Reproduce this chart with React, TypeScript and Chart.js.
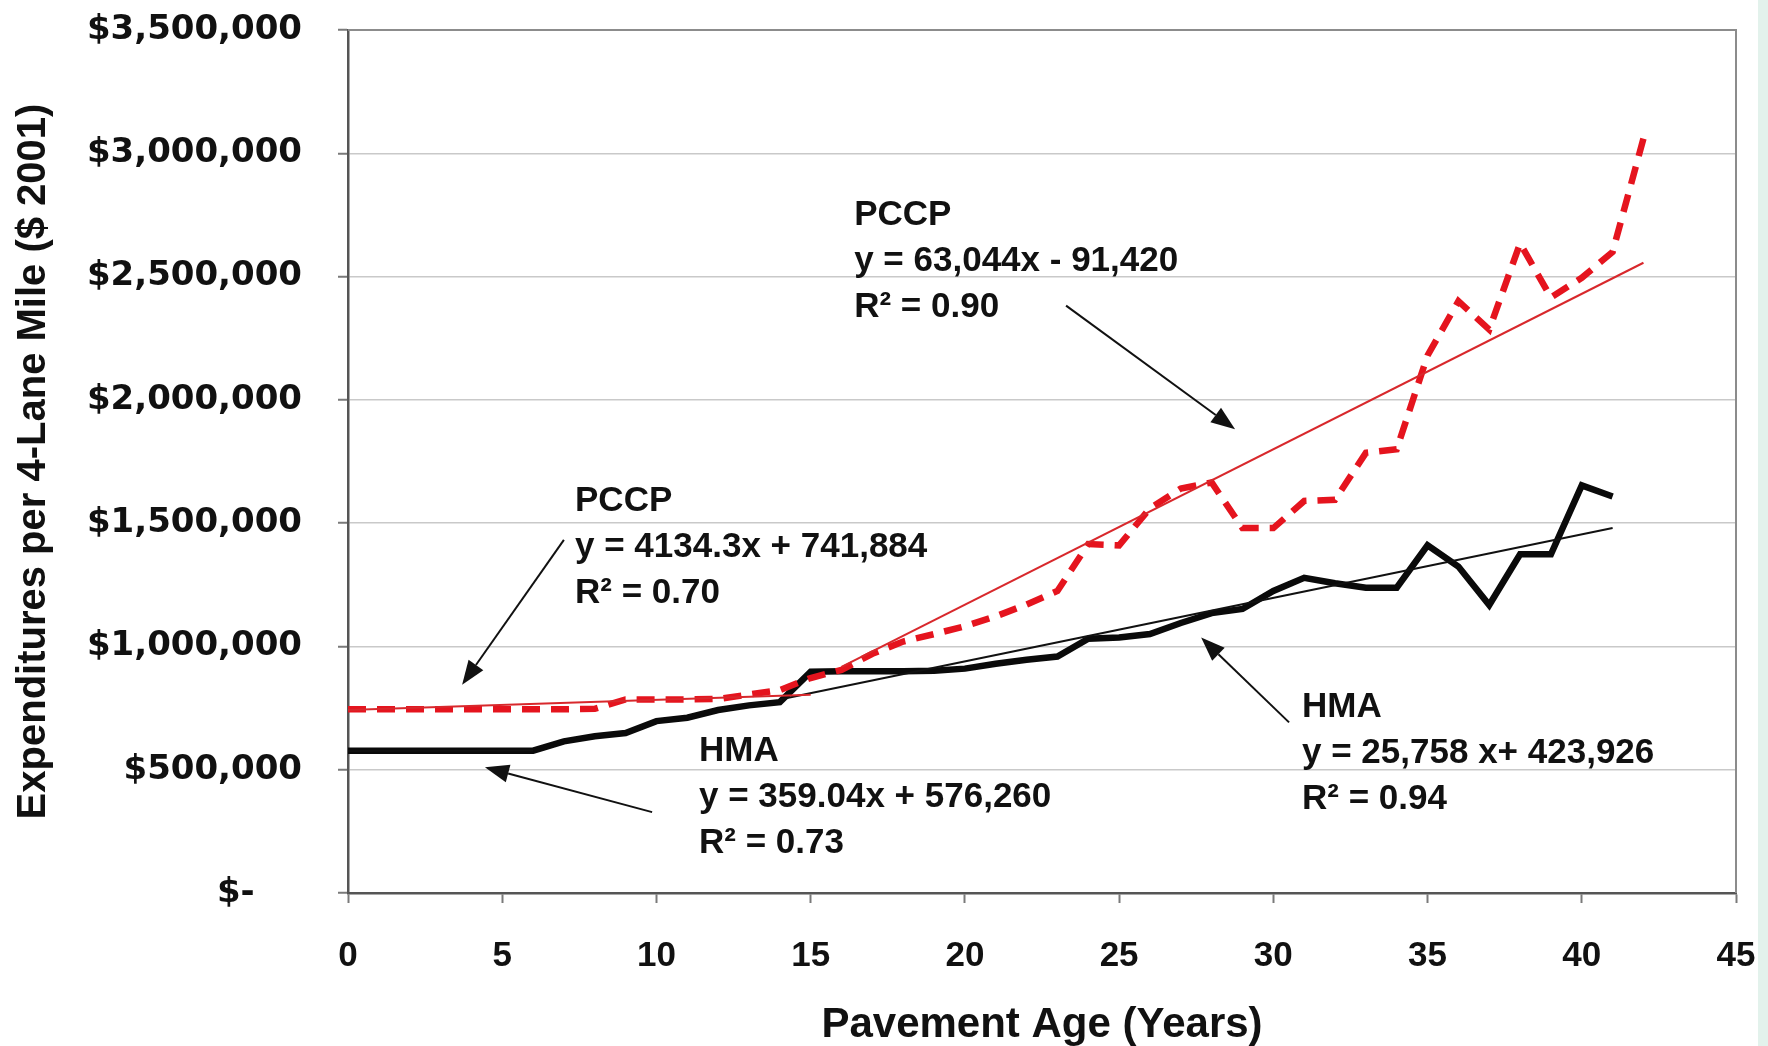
import React, { useEffect, useRef } from 'react';
import { Chart, registerables } from 'chart.js';

Chart.register(...registerables);

// ---------- data ----------
const ages = [
  0, 1, 2, 3, 4, 5, 6, 7, 8, 9, 10, 11, 12, 13, 14, 15, 16, 17, 18, 19, 20,
  21, 22, 23, 24, 25, 26, 27, 28, 29, 30, 31, 32, 33, 34, 35, 36, 37, 38, 39, 40, 41, 42,
];

// HMA expenditures (ages 0..41)
const hmaCost = [
  577000, 577000, 577000, 577000, 577000, 577000, 577000, 615000, 636000, 649000,
  697000, 711000, 742000, 761000, 774000, 897000, 899000, 899000, 899000, 901000,
  910000, 930000, 946000, 959000, 1031000, 1036000, 1050000, 1095000, 1135000, 1152000,
  1225000, 1278000, 1256000, 1238000, 1238000, 1410000, 1324000, 1168000, 1374000, 1374000,
  1653000, 1608000,
];

// PCCP expenditures (ages 0..42)
const pccpCost = [
  745000, 745000, 745000, 745000, 745000, 745000, 745000, 745000, 747000, 785000,
  785000, 785000, 787000, 805000, 823000, 872000, 905000, 970000, 1020000, 1050000,
  1082000, 1122000, 1170000, 1225000, 1415000, 1410000, 1560000, 1640000, 1665000, 1480000,
  1480000, 1590000, 1595000, 1785000, 1800000, 2180000, 2400000, 2285000, 2635000, 2415000,
  2495000, 2600000, 3060000,
];

// trend-line end points
const pccpTrendEarlyX = [0, 15];
const pccpTrendEarlyY = [742000, 804000];
const pccpTrendLateX = [16, 42];
const pccpTrendLateY = [917000, 2556000];
const hmaTrendEarlyX = [0, 6];
const hmaTrendEarlyY = [576000, 578000];
const hmaTrendLateX = [14, 41];
const hmaTrendLateY = [785000, 1480000];

const xTickValues = [0, 5, 10, 15, 20, 25, 30, 35, 40, 45];
const yTickValues = [0, 500000, 1000000, 1500000, 2000000, 2500000, 3000000, 3500000];

// annotation texts and anchors (data units)
const noteLines = [
  ['PCCP', 'y = 63,044x - 91,420', 'R\u00B2 = 0.90'],
  ['PCCP', 'y = 4134.3x + 741,884', 'R\u00B2 = 0.70'],
  ['HMA', 'y = 359.04x + 576,260', 'R\u00B2 = 0.73'],
  ['HMA', 'y = 25,758 x+ 423,926', 'R\u00B2 = 0.94'],
];
const noteAnchorX = [16.41, 7.36, 11.38, 30.93];
const noteAnchorY = [2747000, 1590000, 574000, 752000];
const arrowFromX = [23.28, 7.0, 9.86, 30.51];
const arrowFromY = [2382000, 1432000, 328000, 692000];
const arrowToX = [28.76, 3.7, 4.44, 27.66];
const arrowToY = [1881000, 845000, 510000, 1036000];

const pts = (xs: number[], ys: number[]) => ys.map((y, i) => ({ x: xs[i], y }));

const fmtMoney = (v: number) => {
  if (v === 0) return '$-    ';
  return '$' + String(Math.round(v)).replace(/\B(?=(\d{3})+(?!\d))/g, ',');
};

const W = 1768;
const H = 1046;
const PLOT_LEFT = 348;
const PLOT_RIGHT = 1736;
const PLOT_TOP = 30;
const PLOT_BOTTOM = 893;

const framePlugin = {
  id: 'frame',
  beforeDatasetsDraw(chart: any) {
    const { ctx, chartArea: a } = chart;
    ctx.save();
    ctx.strokeStyle = '#8c8c8c';
    ctx.lineWidth = 2;
    ctx.beginPath();
    ctx.moveTo(a.left, a.top);
    ctx.lineTo(a.right, a.top);
    ctx.lineTo(a.right, a.bottom);
    ctx.stroke();
    ctx.restore();
  },
};

const notesPlugin = {
  id: 'notes',
  afterDatasetsDraw(chart: any) {
    const { ctx } = chart;
    const xs = chart.scales.x;
    const ys = chart.scales.y;
    ctx.save();
    ctx.fillStyle = '#111111';
    ctx.font = 'bold 35px "Liberation Sans", Arial, sans-serif';
    ctx.textAlign = 'left';
    ctx.textBaseline = 'middle';
    noteLines.forEach((lines, k) => {
      const px = xs.getPixelForValue(noteAnchorX[k]);
      const py = ys.getPixelForValue(noteAnchorY[k]);
      lines.forEach((t, i) => ctx.fillText(t, px, py + i * 46));
      const x1 = xs.getPixelForValue(arrowFromX[k]);
      const y1 = ys.getPixelForValue(arrowFromY[k]);
      const x2 = xs.getPixelForValue(arrowToX[k]);
      const y2 = ys.getPixelForValue(arrowToY[k]);
      const ang = Math.atan2(y2 - y1, x2 - x1);
      const headLen = 24;
      const headHalf = 9;
      const bx = x2 - headLen * Math.cos(ang);
      const by = y2 - headLen * Math.sin(ang);
      ctx.strokeStyle = '#111111';
      ctx.lineWidth = 2;
      ctx.beginPath();
      ctx.moveTo(x1, y1);
      ctx.lineTo(bx, by);
      ctx.stroke();
      ctx.beginPath();
      ctx.moveTo(x2, y2);
      ctx.lineTo(bx + headHalf * Math.sin(ang), by - headHalf * Math.cos(ang));
      ctx.lineTo(bx - headHalf * Math.sin(ang), by + headHalf * Math.cos(ang));
      ctx.closePath();
      ctx.fill();
    });
    ctx.restore();
  },
};

export default function App() {
  const ref = useRef<HTMLCanvasElement | null>(null);

  useEffect(() => {
    if (!ref.current) return;
    const trendRed = '#d8282c';
    const chart = new Chart(ref.current, {
      type: 'line',
      data: {
        datasets: [
          {
            label: 'PCCP trend (early)',
            data: pts(pccpTrendEarlyX, pccpTrendEarlyY),
            borderColor: trendRed,
            borderWidth: 2,
            pointRadius: 0,
          },
          {
            label: 'PCCP trend (late)',
            data: pts(pccpTrendLateX, pccpTrendLateY),
            borderColor: trendRed,
            borderWidth: 2,
            pointRadius: 0,
          },
          {
            label: 'HMA trend (early)',
            data: pts(hmaTrendEarlyX, hmaTrendEarlyY),
            borderColor: '#111111',
            borderWidth: 2,
            pointRadius: 0,
          },
          {
            label: 'HMA trend (late)',
            data: pts(hmaTrendLateX, hmaTrendLateY),
            borderColor: '#111111',
            borderWidth: 2,
            pointRadius: 0,
          },
          {
            label: 'PCCP',
            data: pts(ages, pccpCost),
            borderColor: '#e5141e',
            borderWidth: 6.5,
            borderDash: [18, 11],
            pointRadius: 0,
            borderCapStyle: 'butt',
            borderJoinStyle: 'miter',
          },
          {
            label: 'HMA',
            data: pts(ages.slice(0, hmaCost.length), hmaCost),
            borderColor: '#0a0a0a',
            borderWidth: 6.5,
            pointRadius: 0,
            borderJoinStyle: 'miter',
          },
        ],
      },
      options: {
        animation: false,
        responsive: false,
        devicePixelRatio: 1,
        layout: { padding: { left: 0, top: PLOT_TOP, right: W - PLOT_RIGHT, bottom: 0 } },
        plugins: {
          legend: { display: false },
          tooltip: { enabled: false },
        },
        scales: {
          x: {
            type: 'linear',
            min: 0,
            max: 45,
            afterBuildTicks: (s: any) => {
              s.ticks = xTickValues.map((v) => ({ value: v }));
            },
            afterFit: (s: any) => {
              s.height = H - PLOT_BOTTOM;
              s.paddingLeft = 0;
              s.paddingRight = 0;
              s.paddingTop = 0;
              s.paddingBottom = 0;
            },
            ticks: {
              color: '#111111',
              font: { family: '"Liberation Sans", Arial, sans-serif', size: 35, weight: 'bold' },
              padding: 32,
              maxRotation: 0,
            },
            grid: {
              drawOnChartArea: false,
              drawTicks: true,
              tickLength: 10,
              tickColor: '#7a7a7a',
              tickWidth: 2,
            },
            border: { display: true, color: '#555555', width: 2.5 },
            title: {
              display: true,
              text: 'Pavement Age (Years)',
              color: '#111111',
              font: { family: '"Liberation Sans", Arial, sans-serif', size: 42, weight: 'bold', lineHeight: 1 },
              padding: { top: 1, bottom: 0 },
            },
          },
          y: {
            type: 'linear',
            min: 0,
            max: 3500000,
            afterBuildTicks: (s: any) => {
              s.ticks = yTickValues.map((v) => ({ value: v }));
            },
            afterFit: (s: any) => {
              s.width = PLOT_LEFT;
              s.paddingLeft = 0;
              s.paddingRight = 0;
              s.paddingTop = 0;
              s.paddingBottom = 0;
            },
            ticks: {
              color: '#111111',
              font: { family: '"DejaVu Sans", Verdana, sans-serif', size: 34, weight: 'bold' },
              padding: 36,
              callback: (v: any) => fmtMoney(Number(v)),
            },
            grid: {
              color: '#c9c9c9',
              lineWidth: 1.5,
              drawTicks: true,
              tickLength: 10,
              tickColor: '#7a7a7a',
              tickWidth: 2,
            },
            border: { display: true, color: '#555555', width: 2.5 },
            title: {
              display: true,
              text: 'Expenditures per 4-Lane Mile ($ 2001)',
              color: '#111111',
              font: { family: '"Liberation Sans", Arial, sans-serif', size: 40, weight: 'bold', lineHeight: 1.2 },
              padding: { top: 10, bottom: 0 },
            },
          },
        },
      },
      plugins: [framePlugin, notesPlugin],
    } as any);
    return () => chart.destroy();
  }, []);

  return (
    <div style={{ position: 'absolute', left: 0, top: 0, width: W, height: H, background: '#ffffff', overflow: 'hidden' }}>
      <canvas ref={ref} width={W} height={H} style={{ width: W, height: H, display: 'block' }} />
      <div style={{ position: 'absolute', left: 1758, top: 0, width: 10, height: H, background: '#e3f2ec' }} />
    </div>
  );
}
